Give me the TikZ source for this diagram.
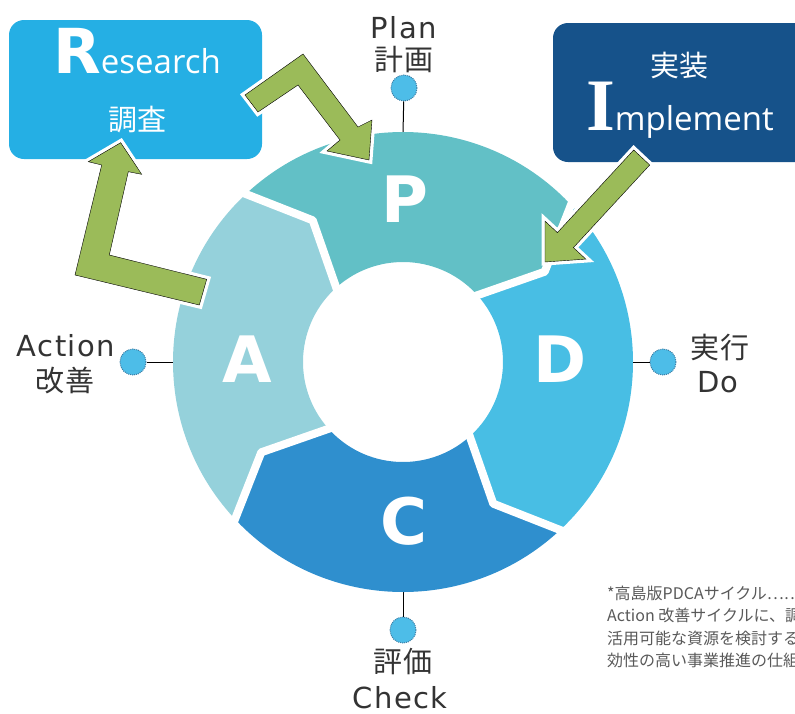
\documentclass[tikz,border=0pt]{standalone}
\usepackage{fontspec}
\setmainfont{DejaVu Sans}
\newfontfamily\labelfont[LetterSpace=5]{DejaVu Sans}
\newfontfamily\jpfont{Noto Sans CJK JP}
\newfontfamily\jplabelfont[LetterSpace=5]{Noto Sans CJK JP}
\newfontfamily\boxfont{Open Sans}
\newfontfamily\capserif{Liberation Serif}
\usepackage{xcolor}
\usetikzlibrary{arrows.meta,positioning}

\definecolor{planteal}{HTML}{62C0C6}
\definecolor{doblue}{HTML}{48BEE4}
\definecolor{checkblue}{HTML}{2F8FCE}
\definecolor{actteal}{HTML}{95D1DB}
\definecolor{resblue}{HTML}{25AFE4}
\definecolor{impblue}{HTML}{16528A}
\definecolor{leafgreen}{HTML}{9BBB59}
\definecolor{dotblue}{HTML}{4DBDE8}
\definecolor{dotedge}{HTML}{3D7FA6}
\definecolor{labelgray}{HTML}{333333}
\definecolor{notegray}{HTML}{595959}

\newcommand{\Rout}{230}
\newcommand{\Rin}{100}
\newcommand{\Rmid}{168}
\newcommand{\tipd}{11.5}
% one chevron piece of the ring, running clockwise from angle #2 to #3
\newcommand{\ringpiece}[3]{%
  \fill[#1] (#2:\Rout) arc[start angle=#2,end angle=#3,radius=\Rout]
    -- ({#3-\tipd}:\Rmid) -- (#3:\Rin)
    arc[start angle=#3,end angle=#2,radius=\Rin]
    -- ({#2-\tipd}:\Rmid) -- cycle;}
\newcommand{\ringgap}[1]{%
  \draw[gapline] (#1:{\Rout+8}) -- ({#1-\tipd}:\Rmid) -- (#1:{\Rin-8});}

\begin{document}
\begin{tikzpicture}[x=1pt,y=1pt,
  ringletter/.style={text=white,font=\bfseries\fontsize{64}{64}\selectfont,inner sep=0pt,anchor=base},
  enlabel/.style={text=labelgray,font=\labelfont\fontsize{29}{29}\selectfont,inner sep=0pt,anchor=base},
  jplabel/.style={text=labelgray,font=\jplabelfont\fontsize{29}{29}\selectfont,inner sep=0pt,anchor=base},
  dotmark/.style={circle,fill=dotblue,draw=dotedge,densely dotted,line width=1pt,minimum size=26pt,inner sep=0pt},
  stem/.style={draw=black,line width=1pt},
  gapline/.style={draw=white,line width=8pt,line join=round},
  boxbase/.style={rounded corners=15pt,minimum width=253pt,minimum height=139pt,inner sep=0pt},
  boxtext/.style={text=white,inner sep=0pt,anchor=base},
  garrow/.style={fill=leafgreen,preaction={draw=white,line width=7pt,line join=miter}},
  note/.style={text=notegray,font=\jpfont\fontsize{16}{16}\selectfont,inner sep=0pt,anchor=base west}
]
\useasboundingbox (0,0) rectangle (795,-713);
\clip (0,0) rectangle (795,-713);

\begin{scope}[shift={(403,-362)}]
  \coordinate (ringtop) at (90:229);
  \coordinate (ringright) at (0:226);
  \coordinate (ringbottom) at (-90:229);
  \coordinate (ringleft) at (180:229);
\end{scope}

\node[dotmark] (plandot) at (404,-88) {};
\node[dotmark] (dodot) at (663,-362) {};
\node[dotmark] (checkdot) at (403,-630) {};
\node[dotmark] (actdot) at (133,-362) {};
\draw[stem] (plandot) -- (ringtop);
\draw[stem] (dodot) -- (ringright);
\draw[stem] (checkdot) -- (ringbottom);
\draw[stem] (actdot) -- (ringleft);

\begin{scope}[shift={(403,-362)}]
  \ringpiece{planteal}{134}{44}
  \ringpiece{doblue}{44}{-46}
  \ringpiece{checkblue}{-46}{-136}
  \ringpiece{actteal}{224}{134}
  \ringgap{134}
  \ringgap{44}
  \ringgap{-46}
  \ringgap{-136}
\end{scope}

\node[ringletter] (P) at (405,-222) {P};
\node[ringletter] (D) at (560,-382) {D};
\node[ringletter] (C) at (404,-544) {C};
\node[ringletter] (A) at (247,-382) {A};

\node[enlabel] (plan) at (404,-38) {Plan};
\node[jplabel] (plan-jp) at (404,-70) {計画};
\node[jplabel] (do-jp) at (720,-358) {実行};
\node[enlabel] (do) at (718,-392) {Do};
\node[jplabel] (check-jp) at (403,-672) {評価};
\node[enlabel] (check) at (400,-708) {Check};
\node[enlabel] (action) at (66,-356) {Action};
\node[jplabel] (action-jp) at (65,-391) {改善};

\node[boxbase,fill=resblue] (research) at (135.5,-89.5) {};
\node[boxtext] (research-en) at (137,-73) {{\bfseries\fontsize{62}{62}\selectfont R}{\boxfont\fontsize{33}{33}\selectfont esearch}};
\node[boxtext] (research-jp) at (137,-130) {{\jpfont\fontsize{29}{29}\selectfont 調査}};

\node[boxbase,fill=impblue,minimum width=260pt] (implement) at (683,-92.5) {};
\node[boxtext] (implement-jp) at (679,-76) {{\jpfont\fontsize{29}{29}\selectfont 実装}};
\node[boxtext] (implement-en) at (680,-130) {{\capserif\bfseries\fontsize{74}{74}\selectfont I}{\boxfont\fontsize{33}{33}\selectfont mplement}};

\draw[garrow] (245,-95) -- (303,-54) -- (358,-127) -- (372,-120) -- (369,-160)
  -- (327,-151) -- (340,-140) -- (298,-85) -- (258,-112) -- cycle;
\draw[garrow] (120.7,-142.7) -- (141.7,-174.3) -- (128.3,-171.7) -- (109.3,-255)
  -- (206.7,-279.3) -- (199.3,-305) -- (75,-275) -- (101.7,-165) -- (88.3,-161.7) -- cycle;
\draw[garrow] (649.7,-165) -- (573.4,-247.6) -- (585.8,-259.1) -- (545,-262)
  -- (545,-221.1) -- (557.4,-232.6) -- (633.7,-150) -- cycle;

\node[note] (note1) at (607,-599) {*高島版PDCAサイクル⋯⋯};
\node[note] (note2) at (607,-621.5) {Action 改善サイクルに、調};
\node[note] (note3) at (607,-644) {活用可能な資源を検討する};
\node[note] (note4) at (607,-666.5) {効性の高い事業推進の仕組};
\end{tikzpicture}
\end{document}
